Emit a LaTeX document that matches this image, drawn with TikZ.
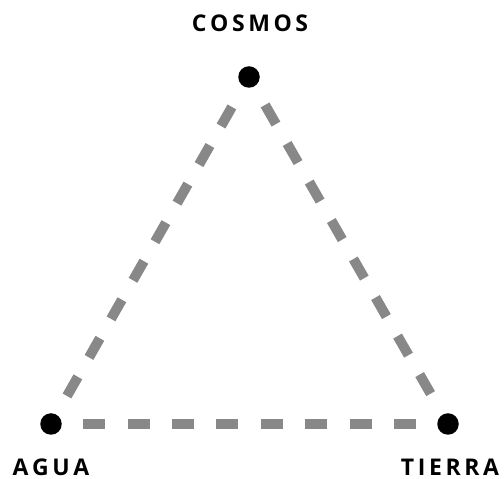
\documentclass[tikz,border=0pt]{standalone}
\usepackage{fontspec}
\setmainfont{Open Sans}
\newcommand\lsp{\kern3.6pt}
\definecolor{dashgray}{RGB}{136,136,136}
\begin{document}
\begin{tikzpicture}[x=1pt,y=1pt,
  dot/.style={circle,fill=black,inner sep=0pt,minimum size=21.5pt},
  dashline/.style={draw=dashgray,line width=10pt,dash pattern=on 22pt off 22.4pt,shorten <=21.3pt,shorten >=21.3pt},
  lab/.style={font=\fontsize{23}{25}\selectfont\bfseries,inner sep=0pt,anchor=base}]
\useasboundingbox (0,0) rectangle (504,479);
\node[dot] (c) at (249,402) {};
\node[dot] (a) at (51,55) {};
\node[dot] (t) at (448,55) {};
\draw[dashline] (a) -- (c);
\draw[dashline] (c) -- (t);
\draw[dashline] (a) -- (t);
\node[lab] (lc) at (250,447) {C\lsp O\lsp S\lsp M\lsp O\lsp S};
\node[lab] (la) at (51,3.5) {A\lsp G\lsp U\lsp A};
\node[lab] (lt) at (450,3.5) {T\lsp I\lsp E\lsp R\lsp R\lsp A};
\end{tikzpicture}
\end{document}
